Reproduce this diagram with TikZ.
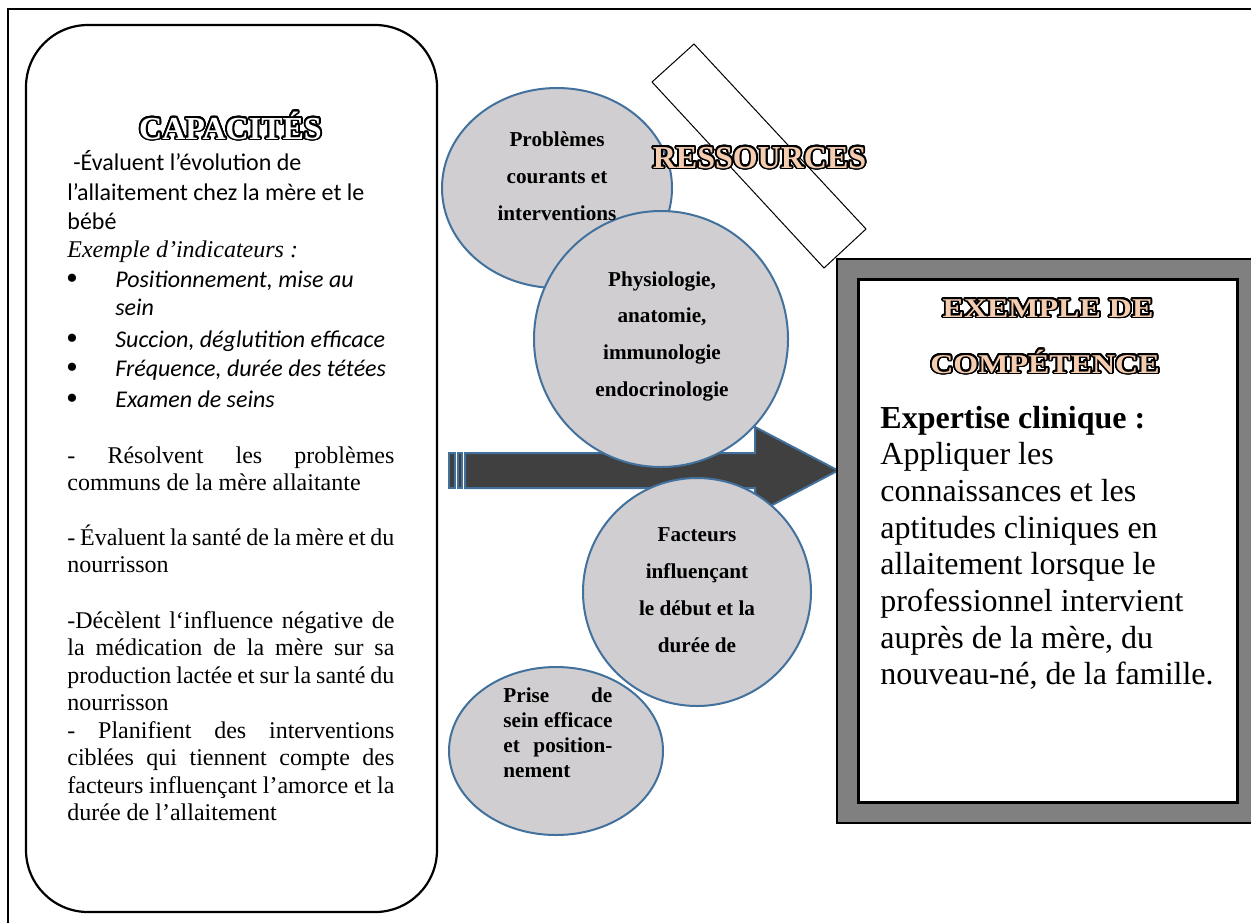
\documentclass[tikz,border=0pt]{standalone}
\usepackage{fontspec}
\setmainfont{Liberation Serif}
\newfontfamily\calfont{Carlito}
\usepackage{graphicx}
\usepackage{contour}
\usetikzlibrary{shapes.geometric}
\definecolor{circfill}{RGB}{208,206,209}
\definecolor{circline}{RGB}{65,113,156}
\definecolor{arrowfill}{RGB}{64,64,64}
\definecolor{peach}{RGB}{244,204,176}
\definecolor{framegray}{RGB}{128,128,128}
\contourlength{0.9pt}
\contournumber{24}
\tikzset{
  bubble/.style={ellipse, draw=circline, fill=circfill, line width=1pt, inner sep=0pt},
  bubtext/.style={font=\fontsize{10.6}{18.5}\selectfont\bfseries, text width=90pt, align=flush center, anchor=base, inner sep=0pt},
  calline/.style={font=\calfont\fontsize{12}{14.6}\selectfont, anchor=base west, inner sep=0pt},
  calital/.style={font=\calfont\itshape\fontsize{12}{14.6}\selectfont, anchor=base west, inner sep=0pt},
  bul/.style={font=\fontsize{17}{18}\selectfont, anchor=base, inner sep=0pt},
  tpara/.style={font=\fontsize{12}{13.75}\selectfont, text width=163.5pt, align=justify, anchor=base west, inner sep=0pt},
  titletext/.style={font=\bfseries\fontsize{16}{18}\selectfont, anchor=base, inner sep=0pt},
  bigarrow/.style={fill=arrowfill, draw=circline, line width=1pt, line join=miter},
}
\begin{document}
\begin{tikzpicture}[x=0.5pt, y=-0.5pt]
\useasboundingbox (0,0) rectangle (1251,922);
\clip (0,0) rectangle (1251,922);
\fill[white] (0,0) rectangle (1251,922);
% outer frame
\draw[line width=1.3pt] (8,940) -- (8,9) -- (1270,9);
% left rounded box
\draw[line width=1.1pt, rounded corners=31pt] (26,25) rectangle (437,912);
% ressources rotated box
\draw[fill=white, line width=0.5pt] (694,44) -- (866,229) -- (824,268) -- (652,82) -- cycle;
% big arrow
\draw[bigarrow] (465,453) -- (755,453) -- (755,427) -- (838,470.5) -- (755,514) -- (755,488) -- (465,488) -- cycle;
\draw[bigarrow] (449,453) rectangle (455,488);
\draw[bigarrow] (458,453) rectangle (462,488);
% bubbles
\node[bubble, minimum width=115pt, minimum height=100pt] (c1) at (557,188) {};
\node[bubble, minimum width=127pt, minimum height=128pt] (c2) at (661,339) {};
\node[bubble, minimum width=107pt, minimum height=84pt] (c4) at (556,751) {};
\node[bubble, minimum width=114pt, minimum height=114pt] (c3) at (697,592) {};
\node[bubtext] (t1) at (557,146) {Problèmes\\courants et\\interventions};
\node[bubtext, font=\fontsize{10.6}{18.35}\selectfont\bfseries] (t2) at (662,286) {Physiologie,\\anatomie,\\immunologie\\endocrinologie};
\node[bubtext] (t3) at (697,541) {Facteurs\\influençant\\le début et la\\durée de};
\node[font=\fontsize{10.6}{12.5}\selectfont\bfseries, text width=54.5pt, align=justify, anchor=base west, inner sep=0pt] (t4) at (503,702) {Prise de\linebreak sein efficace\linebreak et position-\linebreak nement};
% right box
\draw[fill=framegray, line width=1pt] (837,259) rectangle (1270,823);
\draw[fill=white, line width=1.5pt] (858,279) rectangle (1237,802);
% titles
\node[titletext] (capt) at (230.5,139) {\contour{black}{\textcolor{white}{CAPACITÉS}}};
\node[titletext] (rest) at (759.5,168) {\contour{black}{\textcolor{peach}{RESSOURCES}}};
\node[titletext] (ex1) at (1048,317) {\scalebox{1}[0.85]{\contour{black}{\textcolor{peach}{EXEMPLE DE}}}};
\node[titletext] (ex2) at (1045,373) {\scalebox{1}[0.85]{\contour{black}{\textcolor{peach}{COMPÉTENCE}}}};
% competence text
\node[anchor=base west, inner sep=0pt, text width=175pt, align=flush left, font=\fontsize{16}{18.35}\selectfont] (comp) at (880,428)
  {\textbf{Expertise clinique :}\\Appliquer les\\connaissances et les\\aptitudes cliniques en\\allaitement lorsque le\\professionnel intervient\\auprès de la mère, du\\nouveau-né, de la famille.};
% left texts
\node[calline] (l1) at (73,170) {-Évaluent l’évolution de};
\node[calline] (l2) at (67,200) {l’allaitement chez la mère et le};
\node[calline] (l3) at (67,229) {bébé};
\node[anchor=base west, inner sep=0pt, font=\itshape\fontsize{12}{14}\selectfont] (l4) at (67,257) {Exemple d’indicateurs :};
\node[bul] (b1) at (72,289) {\textbullet};
\node[calital] (i1) at (115,287) {Positionnement, mise au};
\node[calital] (i1b) at (115,315) {sein};
\node[bul] (b2) at (72,349) {\textbullet};
\node[calital] (i2) at (115,347) {Succion, déglutition efficace};
\node[bul] (b3) at (72,378) {\textbullet};
\node[calital] (i3) at (115,376) {Fréquence, durée des tétées};
\node[bul] (b4) at (72,409) {\textbullet};
\node[calital] (i4) at (115,407) {Examen de seins};
\node[tpara] (pa) at (67,463) {- Résolvent les problèmes\linebreak communs de la mère allaitante};
\node[tpara] (pb) at (67,545) {- Évaluent la santé de la mère et du\linebreak nourrisson};
\node[tpara] (pc) at (67,628) {-Décèlent l‘influence négative de\linebreak la médication de la mère sur sa\linebreak production lactée et sur la santé du\linebreak nourrisson};
\node[tpara] (pd) at (67,738) {- Planifient des interventions\linebreak ciblées qui tiennent compte des\linebreak facteurs influençant l’amorce et la\linebreak durée de l’allaitement};
\end{tikzpicture}
\end{document}
